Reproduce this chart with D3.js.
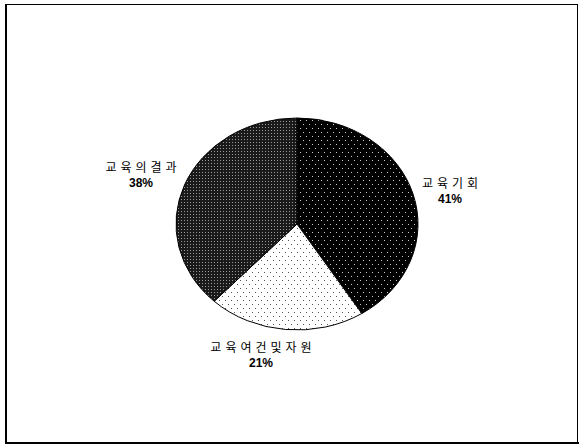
<!DOCTYPE html>
<html>
<head>
<meta charset="utf-8">
<title></title>
<script src="https://cdn.jsdelivr.net/npm/d3@7/dist/d3.min.js"></script>
<style>
  body { margin: 0; background: #fff; }
</style>
</head>
<body>
<div id="chart"></div>
<script>
var labels = ["교육기회", "교육여건및자원", "교육의결과"];
var values = [41, 21, 38];
var patterns = ["dotsWhite", "dotsBlack", "dense"];

var w = 584, h = 447;
var cx = 297, cy = 224, rx = 121, ry = 106;

var svg = d3.select("#chart").append("svg")
    .attr("width", w)
    .attr("height", h);

var defs = svg.append("defs");

// black with sparse white dots
var p1 = defs.append("pattern").attr("id", "dotsWhite")
    .attr("width", 6).attr("height", 8).attr("patternUnits", "userSpaceOnUse");
p1.append("rect").attr("width", 6).attr("height", 8).attr("fill", "#000");
p1.append("rect").attr("x", 0).attr("y", 0).attr("width", 1).attr("height", 1).attr("fill", "#ccc");
p1.append("rect").attr("x", 3).attr("y", 4).attr("width", 1).attr("height", 1).attr("fill", "#ccc");

// white with sparse black dots
var p2 = defs.append("pattern").attr("id", "dotsBlack")
    .attr("width", 6).attr("height", 8).attr("patternUnits", "userSpaceOnUse");
p2.append("rect").attr("width", 6).attr("height", 8).attr("fill", "#fff");
p2.append("rect").attr("x", 0).attr("y", 0).attr("width", 1).attr("height", 1).attr("fill", "#555");
p2.append("rect").attr("x", 3).attr("y", 4).attr("width", 1).attr("height", 1).attr("fill", "#555");

// dense dark grey
var p3 = defs.append("pattern").attr("id", "dense")
    .attr("width", 3).attr("height", 3).attr("patternUnits", "userSpaceOnUse");
p3.append("rect").attr("width", 3).attr("height", 3).attr("fill", "#1a1a1a");
p3.append("rect").attr("x", 1).attr("y", 1).attr("width", 1).attr("height", 1).attr("fill", "#999");

// outer frame
svg.append("rect").attr("x", 6.5).attr("y", 4.5).attr("width", 571).attr("height", 438)
    .attr("fill", "none").attr("stroke", "#000").attr("stroke-width", 1);
svg.append("line").attr("x1", 6).attr("y1", 4).attr("x2", 6).attr("y2", 444)
    .attr("stroke", "#000").attr("stroke-width", 2);
svg.append("line").attr("x1", 5).attr("y1", 443).attr("x2", 579).attr("y2", 443)
    .attr("stroke", "#000").attr("stroke-width", 2);

var pie = d3.pie().sort(null).value(function (d) { return d; });
var arcs = pie(values);

function pt(a) {
    return [cx + rx * Math.sin(a), cy - ry * Math.cos(a)];
}
function slicePath(d) {
    var s = pt(d.startAngle), e = pt(d.endAngle);
    var large = (d.endAngle - d.startAngle) > Math.PI ? 1 : 0;
    return "M" + cx + "," + cy + "L" + s[0] + "," + s[1] +
        "A" + rx + "," + ry + " 0 " + large + " 1 " + e[0] + "," + e[1] + "Z";
}

svg.selectAll("path.slice")
    .data(arcs)
    .enter()
    .append("path")
    .attr("class", "slice")
    .attr("d", slicePath)
    .attr("fill", function (d, i) { return "url(#" + patterns[i] + ")"; })
    .attr("stroke", "#000")
    .attr("stroke-width", 1);

var labelPos = [[450, 188], [261, 352], [141, 172]];
var ls = 4;

var g = svg.selectAll("g.lbl")
    .data(arcs)
    .enter()
    .append("g")
    .attr("class", "lbl")
    .attr("transform", function (d, i) { return "translate(" + labelPos[i][0] + "," + labelPos[i][1] + ")"; });

g.append("text")
    .attr("text-anchor", "middle")
    .attr("dx", ls / 2)
    .attr("font-family", "'Noto Sans CJK KR', sans-serif")
    .attr("font-size", 12)
    .attr("letter-spacing", ls)
    .attr("fill", "#000")
    .text(function (d, i) { return labels[i]; });

g.append("text")
    .attr("text-anchor", "middle")
    .attr("y", 15)
    .attr("font-family", "'Liberation Sans', Arial, sans-serif")
    .attr("font-size", 12)
    .attr("font-weight", "bold")
    .attr("fill", "#000")
    .text(function (d) { return d.data + "%"; });
</script>
</body>
</html>
